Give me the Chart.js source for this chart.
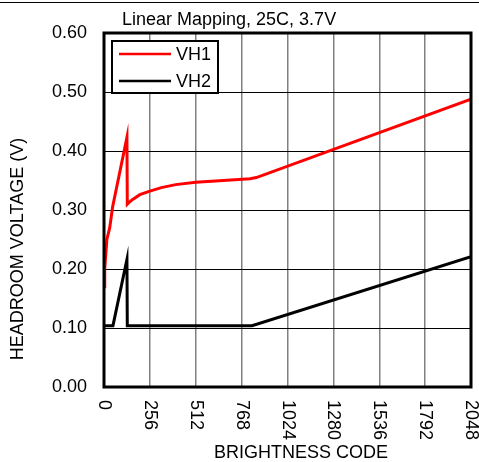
<!DOCTYPE html>
<html>
<head>
<meta charset="utf-8">
<script src="https://cdn.jsdelivr.net/npm/chart.js@4"></script>
<style>
  body { margin: 0; background: #fff; }
</style>
</head>
<body>
<canvas id="myChart" width="479" height="462"></canvas>
<script>
// values
const codesVH1 = [0, 4, 16, 32, 48, 128, 130, 140, 160, 200, 256, 320, 400, 512, 665, 815, 850, 2048];
const valuesVH1 = [0.17, 0.20, 0.25, 0.27, 0.305, 0.423, 0.31, 0.313, 0.318, 0.326, 0.332, 0.338, 0.343, 0.347, 0.350, 0.353, 0.355, 0.488];
const codesVH2 = [0, 50, 128, 130, 826, 2048];
const valuesVH2 = [0.104, 0.104, 0.216, 0.104, 0.104, 0.221];
const xTickLabels = ['0', '256', '512', '768', '1024', '1280', '1536', '1792', '2048'];
const yTickLabels = ['0.00', '0.10', '0.20', '0.30', '0.40', '0.50', '0.60'];

const FONT = '"Liberation Sans", Arial, sans-serif';

const toPoints = (xs, ys) => xs.map((x, i) => ({ x, y: ys[i] }));

const decor = {
  id: 'decor',
  afterDraw(chart) {
    const { ctx, chartArea: a, scales } = chart;
    ctx.save();

    // divider line at the very top
    ctx.strokeStyle = '#000';
    ctx.lineWidth = 1;
    ctx.beginPath();
    ctx.moveTo(0, 2.5);
    ctx.lineTo(chart.width, 2.5);
    ctx.stroke();

    // frame
    ctx.lineWidth = 3;
    ctx.strokeRect(a.left, a.top, a.right - a.left, a.bottom - a.top);

    ctx.fillStyle = '#000';
    ctx.font = '18px ' + FONT;

    // y tick labels
    ctx.textAlign = 'right';
    ctx.textBaseline = 'middle';
    yTickLabels.forEach((t) => {
      ctx.fillText(t, 87, scales.y.getPixelForValue(parseFloat(t)));
    });

    // x tick labels, rotated clockwise
    xTickLabels.forEach((t) => {
      ctx.save();
      ctx.translate(scales.x.getPixelForValue(parseFloat(t)), a.bottom + 13);
      ctx.rotate(Math.PI / 2);
      ctx.textAlign = 'left';
      ctx.textBaseline = 'middle';
      ctx.fillText(t, 0, 0);
      ctx.restore();
    });

    // axis titles
    ctx.textAlign = 'center';
    ctx.textBaseline = 'alphabetic';
    ctx.fillText('BRIGHTNESS CODE', 301, 458);

    ctx.save();
    ctx.translate(18, 249);
    ctx.rotate(-Math.PI / 2);
    ctx.textBaseline = 'middle';
    ctx.fillText('HEADROOM VOLTAGE (V)', 0, 0);
    ctx.restore();

    // chart title
    ctx.textAlign = 'left';
    ctx.fillText('Linear Mapping, 25C, 3.7V', 122, 25);

    // legend box inside the plot
    ctx.fillStyle = '#fff';
    ctx.fillRect(112, 41, 106, 52);
    ctx.lineWidth = 2;
    ctx.strokeStyle = '#000';
    ctx.strokeRect(112, 41, 106, 52);
    ctx.textBaseline = 'middle';
    chart.data.datasets.forEach((ds, i) => {
      const y = 54 + i * 27;
      ctx.strokeStyle = ds.borderColor;
      ctx.lineWidth = 2.5;
      ctx.beginPath();
      ctx.moveTo(119, y);
      ctx.lineTo(171, y);
      ctx.stroke();
      ctx.fillStyle = '#000';
      ctx.fillText(ds.label, 176, y + 1);
    });

    ctx.restore();
  },
};

const ctx = document.getElementById('myChart').getContext('2d');
new Chart(ctx, {
  type: 'line',
  data: {
    datasets: [{
      label: 'VH1',
      data: toPoints(codesVH1, valuesVH1),
      borderColor: '#ff0000',
      borderWidth: 3,
    }, {
      label: 'VH2',
      data: toPoints(codesVH2, valuesVH2),
      borderColor: '#000000',
      borderWidth: 3,
    }],
  },
  options: {
    responsive: false,
    animation: false,
    events: [],
    elements: { point: { radius: 0 }, line: { tension: 0 } },
    layout: { padding: { left: 104, right: 8, top: 33, bottom: 75 } },
    plugins: { legend: { display: false }, tooltip: { enabled: false } },
    scales: {
      x: {
        type: 'linear',
        min: 0,
        max: 2048,
        ticks: { stepSize: 256, display: false },
        grid: { color: '#808080', lineWidth: 1.5, drawTicks: false },
        border: { display: false },
      },
      y: {
        min: 0,
        max: 0.6,
        ticks: { stepSize: 0.1, display: false },
        grid: { color: '#000', lineWidth: 1, drawTicks: false },
        border: { display: false },
      },
    },
  },
  plugins: [decor],
});
</script>
</body>
</html>
